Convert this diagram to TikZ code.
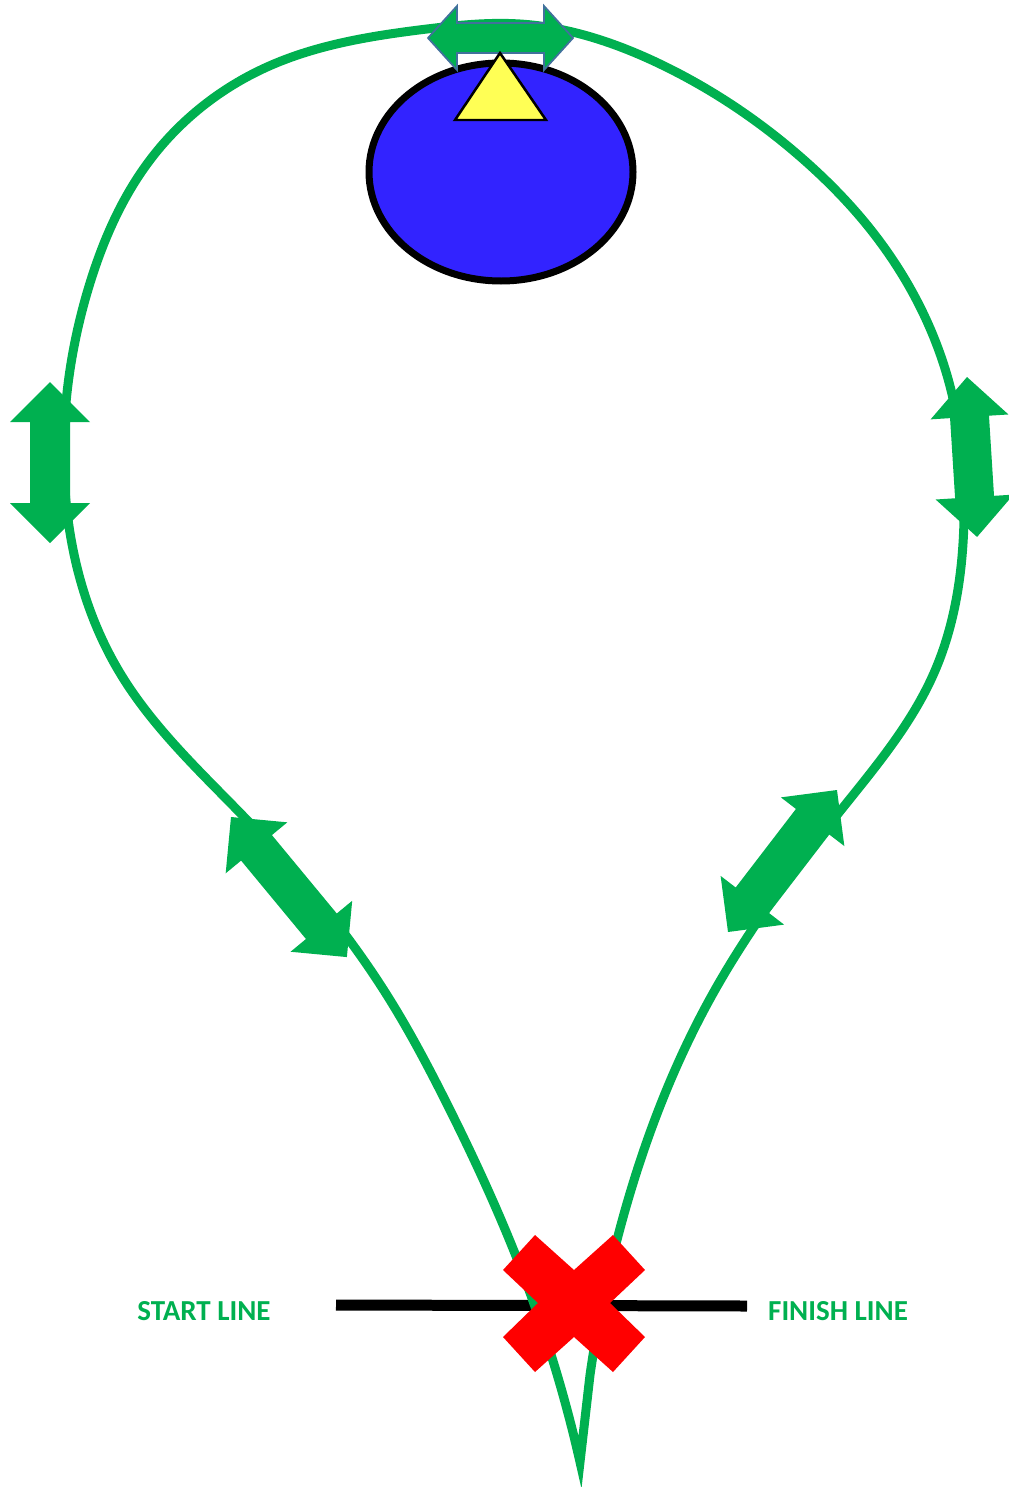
\documentclass[tikz,border=0pt]{standalone}
\usepackage{fontspec}
\setsansfont{Carlito}
\usepackage{tikz}
\usetikzlibrary{hobby}
\definecolor{trackgreen}{RGB}{0,176,80}
\definecolor{lakeblue}{RGB}{50,35,255}
\definecolor{buoyyellow}{RGB}{255,255,85}
\definecolor{arrowrim}{RGB}{65,113,156}
\definecolor{crossred}{RGB}{255,0,0}
\tikzset{
  track/.style    ={line width=0.18cm, trackgreen, line join=miter, miter limit=20},
  lake/.style     ={draw=black, fill=lakeblue, line width=0.14cm},
  buoy/.style     ={draw=black, fill=buoyyellow, line width=0.05cm, line join=miter},
  dirarrow/.style ={fill=trackgreen},
  toparrow/.style ={fill=trackgreen, draw=arrowrim, line width=0.035cm, line join=miter},
  gateline/.style ={line width=0.22cm, black},
  crossmark/.style={fill=crossred},
  linelabel/.style={font=\sffamily\bfseries\fontsize{16.5}{18}\selectfont,
                    text=trackgreen, inner sep=0pt},
}
% double arrow: style, start, angle, length, head length, half head, half shaft
\newcommand\trackarrow[7]{%
  \begin{scope}[shift={#2}, rotate=#3]
    \path[#1] (0,0) -- (#5,#6) -- (#5,#7) -- ({#4-#5},#7) -- ({#4-#5},#6)
      -- (#4,0) -- ({#4-#5},-#6) -- ({#4-#5},-#7) -- (#5,-#7) -- (#5,-#6) -- cycle;
  \end{scope}}

\begin{document}
\begin{tikzpicture}[x=0.02cm, y=-0.02cm]
  \useasboundingbox (0,0) rectangle (1008,1487);
  % start / finish line
  \coordinate (gateL) at (336,1305);
  \coordinate (gateR) at (747,1306);
  \draw[gateline] (gateL) -- (gateR);
  % course
  \draw[track, use Hobby shortcut] (580,1462) .. (529,1290) .. (445,1100)
      .. (390,1000) .. (247,820) .. (120,673) .. (64,470) .. (90,283)
      .. (150,160) .. (267,67) .. (427,29) .. (520,24) .. (660,64)
      .. (804,160) .. (871,230) .. (951,390) .. (964,520) .. (934,673)
      .. (841,810) .. (711,997) .. (628,1200) .. (590,1375) -- cycle;
  % mark and buoy
  \draw[lake] (501,172) ellipse [x radius=132, y radius=109];
  \trackarrow{toparrow}{(428,38)}{0}{145}{29}{32}{15}
  \draw[buoy] (500,53) -- (546,120) -- (455,120) -- cycle;
  % direction arrows
  \trackarrow{dirarrow}{(50,382)}{-90}{161}{40}{40}{20}
  \trackarrow{dirarrow}{(967,377)}{-86.4}{160.3}{40}{39}{19.5}
  \trackarrow{dirarrow}{(231,817)}{-50.4}{181.8}{40}{40}{20}
  \trackarrow{dirarrow}{(728,932)}{52.5}{179}{40}{40}{21}
  % cross
  \fill[crossmark] (535,1235) -- (574,1270) -- (613,1235) -- (645,1270)
    -- (610,1303) -- (645,1337) -- (613,1372) -- (574,1337) -- (535,1372)
    -- (503,1337) -- (538,1303) -- (503,1270) -- cycle;
  % labels
  \node[linelabel] (startlbl)  at (204,1311) {START LINE};
  \node[linelabel] (finishlbl) at (838,1311) {FINISH LINE};
\end{tikzpicture}
\end{document}
